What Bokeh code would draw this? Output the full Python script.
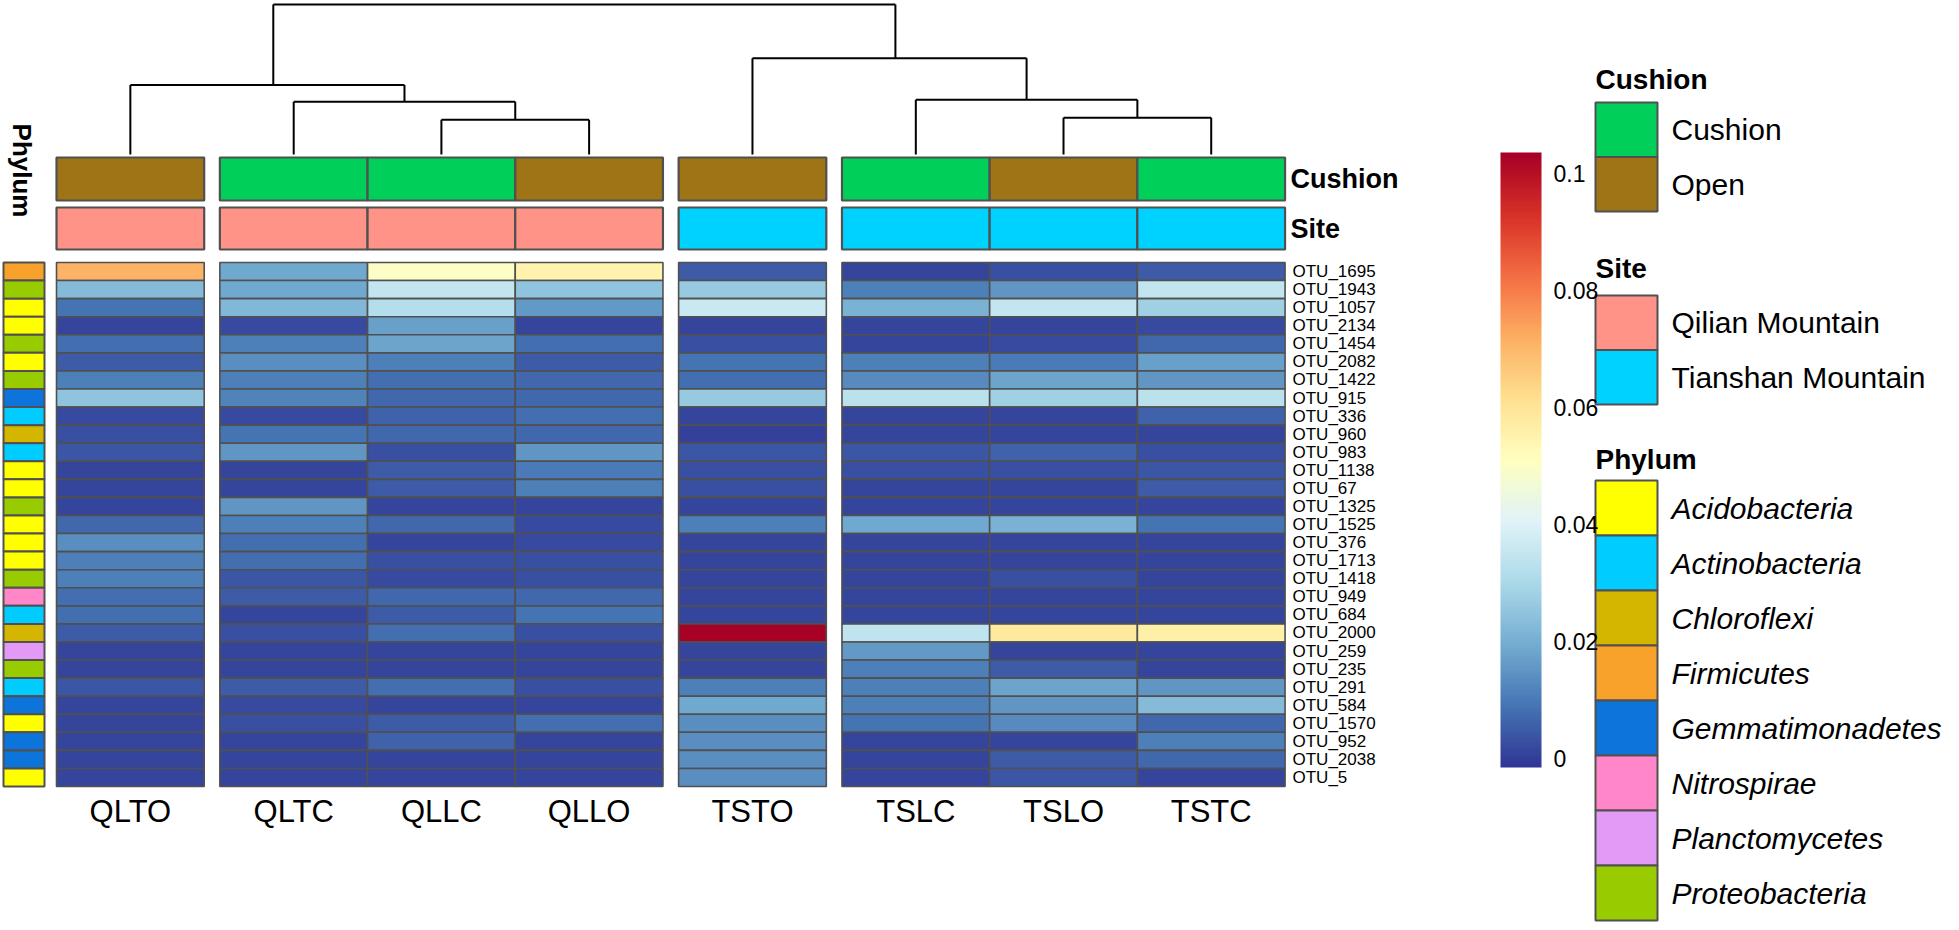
import numpy as np
from bokeh.plotting import figure
from bokeh.models import (Range1d, ColumnDataSource, LinearColorMapper, ColorBar,
                          FixedTicker, CustomJSTickFormatter)
from bokeh.transform import transform
from bokeh.core.properties import value
from bokeh.embed import file_html
from bokeh.resources import INLINE

# ---------------- data ----------------
samples = ["QLTO", "QLTC", "QLLC", "QLLO", "TSTO", "TSLC", "TSLO", "TSTC"]
col_group = [0, 1, 1, 1, 2, 3, 3, 3]          # column split from dendrogram (k = 4)
cushion = ["Open", "Cushion", "Cushion", "Open", "Open", "Cushion", "Open", "Cushion"]
site = ["Qilian Mountain"] * 4 + ["Tianshan Mountain"] * 4

otus = ["OTU_1695", "OTU_1943", "OTU_1057", "OTU_2134", "OTU_1454", "OTU_2082", "OTU_1422",
        "OTU_915", "OTU_336", "OTU_960", "OTU_983", "OTU_1138", "OTU_67", "OTU_1325",
        "OTU_1525", "OTU_376", "OTU_1713", "OTU_1418", "OTU_949", "OTU_684", "OTU_2000",
        "OTU_259", "OTU_235", "OTU_291", "OTU_584", "OTU_1570", "OTU_952", "OTU_2038", "OTU_5"]

phylum = ["Firmicutes", "Proteobacteria", "Acidobacteria", "Acidobacteria", "Proteobacteria",
          "Acidobacteria", "Proteobacteria", "Gemmatimonadetes", "Actinobacteria", "Chloroflexi",
          "Actinobacteria", "Acidobacteria", "Acidobacteria", "Proteobacteria", "Acidobacteria",
          "Acidobacteria", "Acidobacteria", "Proteobacteria", "Nitrospirae", "Actinobacteria",
          "Chloroflexi", "Planctomycetes", "Proteobacteria", "Actinobacteria", "Gemmatimonadetes",
          "Acidobacteria", "Gemmatimonadetes", "Gemmatimonadetes", "Acidobacteria"]

QLTO = [0.071, 0.023, 0.009, 0.001, 0.008, 0.005, 0.011, 0.025, 0.002, 0.003, 0.004, 0.001, 0.001, 0.001,
        0.007, 0.014, 0.011, 0.011, 0.008, 0.008, 0.005, 0.001, 0.001, 0.004, 0.001, 0.001, 0.001, 0.001, 0.001]
QLTC = [0.019, 0.019, 0.022, 0.002, 0.011, 0.014, 0.011, 0.012, 0.002, 0.009, 0.015, 0.001, 0.001, 0.015,
        0.011, 0.008, 0.008, 0.004, 0.005, 0.001, 0.003, 0.001, 0.001, 0.005, 0.002, 0.003, 0.001, 0.001, 0.001]
QLLC = [0.050, 0.035, 0.032, 0.017, 0.018, 0.011, 0.008, 0.007, 0.006, 0.007, 0.003, 0.005, 0.005, 0.001,
        0.007, 0.001, 0.003, 0.002, 0.007, 0.005, 0.008, 0.001, 0.001, 0.008, 0.001, 0.005, 0.006, 0.001, 0.001]
QLLO = [0.055, 0.025, 0.016, 0.001, 0.008, 0.005, 0.007, 0.007, 0.008, 0.007, 0.015, 0.010, 0.011, 0.001,
        0.002, 0.002, 0.003, 0.003, 0.007, 0.009, 0.003, 0.001, 0.001, 0.003, 0.001, 0.008, 0.001, 0.001, 0.001]
TSTO = [0.005, 0.026, 0.036, 0.001, 0.003, 0.009, 0.008, 0.026, 0.001, 0.0005, 0.004, 0.003, 0.003, 0.001,
        0.011, 0.001, 0.001, 0.001, 0.001, 0.001, 0.103, 0.001, 0.001, 0.011, 0.019, 0.014, 0.014, 0.014, 0.014]
TSLC = [0.001, 0.011, 0.021, 0.001, 0.001, 0.011, 0.013, 0.033, 0.001, 0.001, 0.004, 0.003, 0.001, 0.001,
        0.019, 0.001, 0.001, 0.001, 0.001, 0.001, 0.034, 0.016, 0.011, 0.011, 0.011, 0.009, 0.001, 0.001, 0.001]
TSLO = [0.003, 0.015, 0.035, 0.001, 0.002, 0.010, 0.018, 0.028, 0.001, 0.001, 0.006, 0.003, 0.001, 0.001,
        0.021, 0.001, 0.001, 0.003, 0.001, 0.001, 0.058, 0.001, 0.005, 0.018, 0.015, 0.013, 0.001, 0.005, 0.004]
TSTC = [0.005, 0.035, 0.028, 0.002, 0.007, 0.017, 0.015, 0.033, 0.006, 0.001, 0.003, 0.004, 0.005, 0.001,
        0.009, 0.001, 0.001, 0.001, 0.001, 0.001, 0.056, 0.001, 0.001, 0.015, 0.023, 0.007, 0.011, 0.007, 0.001]
values = {"QLTO": QLTO, "QLTC": QLTC, "QLLC": QLLC, "QLLO": QLLO,
          "TSTO": TSTO, "TSLC": TSLC, "TSLO": TSLO, "TSTC": TSTC}

# column dendrogram (hierarchical merges; heights in arbitrary distance units)
merge_a = ["QLLC", "QLTC", "QLTO", "TSLO", "TSLC", "TSTO", "m2"]
merge_b = ["QLLO", "m0", "m1", "TSTC", "m3", "m4", "m5"]
merge_h = [35, 53, 70, 37, 55, 97, 151]

cb_ticks = [0, 0.02, 0.04, 0.06, 0.08, 0.1]

cushion_levels = ["Cushion", "Open"]
cushion_colors = ["#00CF5A", "#9E7416"]
site_levels = ["Qilian Mountain", "Tianshan Mountain"]
site_colors = ["#FF9388", "#00D2FF"]
phylum_levels = ["Acidobacteria", "Actinobacteria", "Chloroflexi", "Firmicutes",
                 "Gemmatimonadetes", "Nitrospirae", "Planctomycetes", "Proteobacteria"]
phylum_colors = ["#FFFF00", "#00CCFF", "#D4B500", "#F9A22B", "#0C74DA", "#FF86C8", "#E39AF7", "#99CC00"]

# ---------------- layout helpers ----------------
W, H = 1959, 930
CW, RH = 147.7, 18.07           # pixel size of one column / one row
FX0, FY0 = 56.0, 262.0          # pixel position of heatmap top-left
GAP = 0.106                     # gap between column slices (in column units)


def xs(px):   # page px -> data x
    return (px - FX0) / CW


def ys(py):   # page px -> data y (downwards)
    return (py - FY0) / RH


FONT = "Liberation Sans"
BORDER = "#505050"

p = figure(width=W, height=H, output_backend="svg", toolbar_location=None,
           x_range=Range1d(xs(0), xs(W)), y_range=Range1d(ys(H), ys(0)),
           min_border=0, x_axis_location=None, y_axis_location=None)
p.outline_line_color = None
p.xgrid.visible = False
p.ygrid.visible = False
p.background_fill_color = "white"

# colour map (RdYlBu, low = blue)
rdylbu = ["#313695", "#4575b4", "#74add1", "#abd9e9", "#e0f3f8", "#ffffbf",
          "#fee090", "#fdae61", "#f46d43", "#d73027", "#a50026"]
rgb = np.array([[int(h[i:i + 2], 16) for i in (1, 3, 5)] for h in rdylbu], float)
t0 = np.linspace(0, 1, len(rdylbu))
palette = ["#%02x%02x%02x" % tuple(int(round(np.interp(t, t0, rgb[:, k]))) for k in range(3))
           for t in np.linspace(0, 1, 256)]
mapper = LinearColorMapper(palette=palette, low=-0.0015, high=0.1035)

col_left = [i + GAP * g for i, g in enumerate(col_group)]
col_center = [c + 0.5 for c in col_left]

# heatmap cells
hl, hr, ht, hb, hv = [], [], [], [], []
for j, s in enumerate(samples):
    for r, v in enumerate(values[s]):
        hl.append(col_left[j]); hr.append(col_left[j] + 1)
        ht.append(r); hb.append(r + 1); hv.append(v)
src = ColumnDataSource(dict(left=hl, right=hr, top=ht, bottom=hb, val=hv))
p.quad(left="left", right="right", top="top", bottom="bottom", source=src,
       fill_color=transform("val", mapper), line_color=BORDER, line_width=1.6)

# column annotations
cush_map = dict(zip(cushion_levels, cushion_colors))
site_map = dict(zip(site_levels, site_colors))
p.quad(left=col_left, right=[c + 1 for c in col_left], top=ys(157), bottom=ys(200),
       fill_color=[cush_map[c] for c in cushion], line_color=BORDER, line_width=2.2)
p.quad(left=col_left, right=[c + 1 for c in col_left], top=ys(207), bottom=ys(249),
       fill_color=[site_map[s] for s in site], line_color=BORDER, line_width=2.2)
p.text(x=[xs(1290)] * 2, y=[(ys(157) + ys(200)) / 2, (ys(207) + ys(249)) / 2],
       text=["Cushion", "Site"], text_font=value(FONT), text_font_style="bold",
       text_font_size="27px", text_baseline="middle", text_align="left", text_color="black")

# row annotation (phylum)
ph_map = dict(zip(phylum_levels, phylum_colors))
rows = list(range(len(otus)))
p.quad(left=xs(3), right=xs(44), top=rows, bottom=[r + 1 for r in rows],
       fill_color=[ph_map[f] for f in phylum], line_color=BORDER, line_width=2)
p.text(x=[xs(21)], y=[ys(170)], text=["Phylum"], angle=-np.pi / 2,
       text_font=value(FONT), text_font_style="bold", text_font_size="26px",
       text_align="center", text_baseline="middle", text_color="black")

# row labels
p.text(x=[xs(1292)] * len(otus), y=[r + 0.5 for r in rows], text=otus,
       text_font=value(FONT), text_font_size="17px", text_baseline="middle",
       text_align="left", text_color="black")

# column labels
p.text(x=col_center, y=[ys(811)] * len(samples), text=samples,
       text_font=value(FONT), text_font_size="31px", text_baseline="middle",
       text_align="center", text_color="black")

# dendrogram: node positions as leaf-unit midpoints, mapped onto column centres
leaf_idx = list(range(len(samples)))
y_base = ys(154)
k = (ys(154) - ys(4)) / max(merge_h)
pos = {s: float(i) for i, s in enumerate(samples)}
nh = {s: 0.0 for s in samples}
x0s, y0s, x1s, y1s = [], [], [], []


def px_of(u):
    return float(np.interp(u, leaf_idx, col_center))


for idx, (a, b, h) in enumerate(zip(merge_a, merge_b, merge_h)):
    yh = y_base - h * k
    for c in (a, b):
        x0s.append(px_of(pos[c])); x1s.append(px_of(pos[c]))
        y0s.append(y_base - nh[c] * k); y1s.append(yh)
    x0s.append(px_of(pos[a])); x1s.append(px_of(pos[b])); y0s.append(yh); y1s.append(yh)
    name = "m%d" % idx
    pos[name] = (pos[a] + pos[b]) / 2
    nh[name] = h
p.segment(x0=x0s, y0=y0s, x1=x1s, y1=y1s, line_color="black", line_width=2)

# colour bar
cb = ColorBar(color_mapper=mapper, location=(1500, H - 767), width=41, height=615,
              padding=0, margin=0, ticker=FixedTicker(ticks=cb_ticks),
              formatter=CustomJSTickFormatter(code="return String(Number(tick.toFixed(3)));"),
              major_label_text_font_size="23px", major_label_text_font=FONT,
              major_label_text_color="black", label_standoff=12,
              major_tick_line_color=None, minor_tick_line_color=None,
              bar_line_color=None, border_line_color=None, background_fill_alpha=0)
p.add_layout(cb)

# legends
LX0, LX1, LT = xs(1595), xs(1657), xs(1671)
groups = [("Cushion", cushion_levels, cushion_colors, 79, 102, 54.5, "normal"),
          ("Site", site_levels, site_colors, 268, 295, 54.5, "normal"),
          ("Phylum", phylum_levels, phylum_colors, 459, 480, 55.0, "italic")]
for title, levels, colors, ty, by, pitch, style in groups:
    p.text(x=[xs(1595)], y=[ys(ty)], text=[title], text_font=value(FONT),
           text_font_style="bold", text_font_size="28px", text_baseline="middle",
           text_align="left", text_color="black")
    tops = [ys(by + i * pitch) for i in range(len(levels))]
    bots = [ys(by + (i + 1) * pitch) for i in range(len(levels))]
    p.quad(left=LX0, right=LX1, top=tops, bottom=bots, fill_color=colors,
           line_color=BORDER, line_width=2)
    p.text(x=[LT] * len(levels), y=[(a + b) / 2 for a, b in zip(tops, bots)], text=levels,
           text_font=value(FONT), text_font_style=style, text_font_size="30px",
           text_baseline="middle", text_align="left", text_color="black")

open("out.html", "w").write(file_html(p, INLINE))
